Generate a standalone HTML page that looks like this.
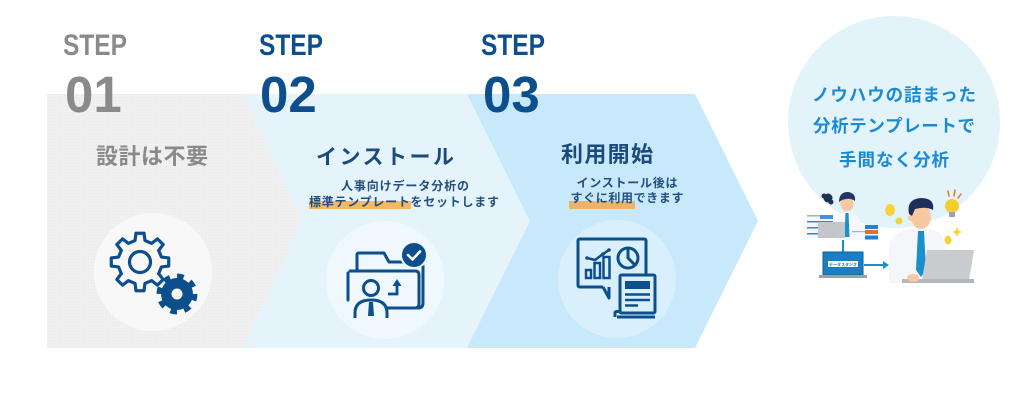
<!DOCTYPE html>
<html><head><meta charset="utf-8"><style>
html,body{margin:0;padding:0;background:#fff;width:1024px;height:405px;overflow:hidden}
svg{display:block}
text{font-family:"Liberation Sans","Noto Sans CJK JP",sans-serif;font-weight:700}
</style></head><body>
<svg width="1024" height="405" viewBox="0 0 1024 405" xmlns="http://www.w3.org/2000/svg">
<defs>
<pattern id="dots" width="3" height="3" patternUnits="userSpaceOnUse">
<rect width="3" height="3" fill="#f0f0f0"/><rect x="1" y="1" width="1" height="1" fill="#e9e9e9"/>
</pattern>
</defs>
<!-- panels -->
<polygon points="47,94 695,94 758,221 695,348 47,348" fill="#c7e9fb"/>
<polygon points="47,94 467,94 530,221 467,348 47,348" fill="#e5f4fb"/>
<polygon points="47,94 243,94 302,221 243,348 47,348" fill="url(#dots)"/>

<!-- circles -->
<circle cx="153" cy="272" r="59" fill="#f8f8f8"/>
<circle cx="385" cy="280" r="59" fill="#eef8fd"/>
<circle cx="617" cy="279" r="59" fill="#d9f0fc"/>

<!-- STEP labels -->
<text x="63" y="55" font-size="30" fill="#8a8a8a" textLength="64" lengthAdjust="spacingAndGlyphs">STEP</text>
<text x="65" y="112" font-size="51" fill="#8a8a8a">01</text>
<text x="259" y="55" font-size="30" fill="#0d4e8c" textLength="64" lengthAdjust="spacingAndGlyphs">STEP</text>
<text x="260" y="112" font-size="51" fill="#0d4e8c">02</text>
<text x="481" y="55" font-size="30" fill="#0d4e8c" textLength="64" lengthAdjust="spacingAndGlyphs">STEP</text>
<text x="483" y="112" font-size="51" fill="#0d4e8c">03</text>

<!-- titles -->
<text x="152" y="164" font-size="22" fill="#8a8a8a" text-anchor="middle" textLength="112" lengthAdjust="spacing">設計は不要</text>
<text x="385" y="164" font-size="21" fill="#1b4b7c" text-anchor="middle" textLength="138" lengthAdjust="spacing">インストール</text>
<text x="607" y="162" font-size="22" fill="#1b4b7c" text-anchor="middle" textLength="92" lengthAdjust="spacing">利用開始</text>

<!-- highlights -->
<rect x="309" y="201" width="102" height="8" fill="#f5b866"/>
<rect x="569" y="201" width="66" height="8" fill="#eab46a"/>

<!-- sub text -->
<text x="405" y="190" font-size="12" fill="#234f7e" text-anchor="middle" textLength="128" lengthAdjust="spacing">人事向けデータ分析の</text>
<text x="404" y="206" font-size="12" fill="#234f7e" text-anchor="middle" textLength="190" lengthAdjust="spacing">標準テンプレートをセットします</text>
<text x="627" y="187" font-size="12" fill="#234f7e" text-anchor="middle" textLength="101" lengthAdjust="spacing">インストール後は</text>
<text x="627" y="202" font-size="12" fill="#234f7e" text-anchor="middle" textLength="113" lengthAdjust="spacing">すぐに利用できます</text>

<!-- gear icon -->
<g fill="none" stroke="#0d4e8c" stroke-width="3.2" stroke-linejoin="round">
<polygon points="161.44,266.95 168.72,266.04 168.72,257.96 161.44,257.05 158.66,250.34 163.16,244.55 157.45,238.84 151.66,243.34 144.95,240.56 144.04,233.28 135.96,233.28 135.05,240.56 128.34,243.34 122.55,238.84 116.84,244.55 121.34,250.34 118.56,257.05 111.28,257.96 111.28,266.04 118.56,266.95 121.34,273.66 116.84,279.45 122.55,285.16 128.34,280.66 135.05,283.44 135.96,290.72 144.04,290.72 144.95,283.44 151.66,280.66 157.45,285.16 163.16,279.45 158.66,273.66"/>
<circle cx="140" cy="262" r="10.5"/>
</g>
<circle cx="177" cy="294" r="16" fill="#0d4e8c"/>
<circle cx="177" cy="294" r="17.5" fill="none" stroke="#0d4e8c" stroke-width="6" stroke-dasharray="6.5 7.24"/>
<circle cx="177" cy="294" r="5.5" fill="#f8f8f8"/>

<!-- folder icon -->
<g fill="none" stroke="#0d4e8c" stroke-width="3" stroke-linejoin="round" stroke-linecap="round">
<path d="M357,271 V255 Q357,253 359,253 H384 L389,262 H404"/>
<path d="M423,266 V303 Q423,308 418,308"/>
<path d="M350,271 H415 Q419,271 419,275 V304 Q419,308 415,308 H388"/>
<path d="M348,273 V300"/>
</g>
<path d="M355,318 V313 Q355,300 371,300 Q387,300 387,313 V318" fill="#eef8fd" stroke="#0d4e8c" stroke-width="3"/>
<circle cx="371" cy="288" r="7.5" fill="#eef8fd" stroke="#0d4e8c" stroke-width="3"/>
<polygon points="369,302 373,302 374,316 368,316" fill="#0d4e8c"/>
<path d="M388,294 H397 V284" fill="none" stroke="#0d4e8c" stroke-width="2.8"/>
<polygon points="392.5,286 397,279 401.5,286" fill="#0d4e8c"/>
<circle cx="414" cy="255" r="13" fill="#0d4e8c" stroke="#eef8fd" stroke-width="2"/>
<path d="M408,255 L412.5,259.5 L420,251.5" fill="none" stroke="#fff" stroke-width="2.6" stroke-linecap="round" stroke-linejoin="round"/>

<!-- report icon -->
<g fill="none" stroke="#0d4e8c" stroke-width="3" stroke-linejoin="round">
<path d="M603,287 H580 Q578,287 578,285 V241 Q578,239 580,239 H644 Q646,239 646,241 V276"/>
<path d="M603,287 L609,298 V287"/>
<circle cx="628" cy="258" r="10"/>
<path d="M628,248 V258 L635,265"/>
</g>
<g fill="none" stroke="#0d4e8c" stroke-width="2.5">
<rect x="586" y="270" width="5" height="8"/>
<rect x="594.5" y="263" width="5.5" height="15"/>
<rect x="603.5" y="257" width="6" height="21"/>
<polyline points="587,258 595,260 603,254 609,250"/>
</g>
<circle cx="587" cy="258" r="1.8" fill="#0d4e8c"/>
<circle cx="603" cy="254" r="1.8" fill="#0d4e8c"/>
<circle cx="609" cy="250" r="1.8" fill="#0d4e8c"/>
<rect x="620" y="275" width="35" height="38" rx="1.5" fill="#d9f0fc" stroke="#0d4e8c" stroke-width="3"/>
<rect x="625" y="281" width="25" height="8" fill="#0d4e8c"/>
<g stroke="#0d4e8c" stroke-width="2.5">
<line x1="625" y1="294.5" x2="650" y2="294.5"/>
<line x1="625" y1="300" x2="650" y2="300"/>
<line x1="625" y1="305.5" x2="638" y2="305.5"/>
</g>
<path d="M615,317 V313 Q615,311.5 617,311.5 H621 M617,317 H655" fill="none" stroke="#0d4e8c" stroke-width="3"/>

<!-- right circle -->
<circle cx="894" cy="122" r="106" fill="#e2f3fa"/>
<text x="894" y="101" font-size="17.5" fill="#1a8ad6" text-anchor="middle" textLength="164" lengthAdjust="spacing">ノウハウの詰まった</text>
<text x="894" y="132" font-size="17.5" fill="#1a8ad6" text-anchor="middle" textLength="162" lengthAdjust="spacing">分析テンプレートで</text>
<text x="894" y="166" font-size="17.5" fill="#1a8ad6" text-anchor="middle" textLength="110" lengthAdjust="spacing">手間なく分析</text>

<!-- illustration: small person -->
<circle cx="828" cy="198" r="4.5" fill="#1d3153"/>
<circle cx="824" cy="196" r="2.5" fill="#1d3153"/>
<circle cx="831" cy="202" r="2.5" fill="#1d3153"/>
<path d="M836,240 V223 Q836,213 847,212 Q859,213 860,223 V240 Z" fill="#f5f7fa"/>
<polygon points="845.5,213 848.5,213 849.5,237 844.5,237" fill="#1a8fc9"/>
<ellipse cx="847" cy="204" rx="6.5" ry="7.5" fill="#f6c9a3"/>
<path d="M839,202 Q839,192 848,192 Q856,193 855,201 Q850,197 842,200 Z" fill="#1f3563"/>
<rect x="807" y="215" width="26" height="23" fill="#f4f7fb"/>
<rect x="820" y="215" width="13" height="4" fill="#4a90d9"/>
<rect x="807" y="215" width="13" height="1.5" fill="#9ab4d2"/>
<rect x="807" y="221" width="26" height="1.5" fill="#4a7fc0"/>
<rect x="807" y="227" width="26" height="1.5" fill="#4a7fc0"/>
<rect x="807" y="233" width="26" height="1.5" fill="#4a7fc0"/>
<rect x="818" y="222" width="27" height="16" fill="#c3c6ca"/>
<rect x="852" y="225" width="26" height="15" fill="#f4f7fb"/>
<rect x="865" y="225" width="13" height="4" fill="#2b7fc4"/>
<rect x="865" y="230" width="13" height="4" fill="#df6f33"/>
<rect x="865" y="235.5" width="13" height="4" fill="#2b7fc4"/>
<rect x="852" y="231" width="13" height="1.2" fill="#9ab4d2"/>
<line x1="843" y1="240" x2="843" y2="252" stroke="#1a8fc9" stroke-width="2"/>
<rect x="823" y="252" width="40" height="23" fill="#1a7fc0" stroke="#0f5f9a" stroke-width="1"/>
<rect x="828" y="261" width="30" height="6" fill="#fff"/>
<text x="843" y="265.8" font-size="4" fill="#1a7fc0" text-anchor="middle">データスタジオ</text>
<rect x="819" y="275" width="48" height="3" fill="#9aa0a6"/>
<line x1="864" y1="265" x2="884" y2="265" stroke="#1a8fc9" stroke-width="2"/>
<polygon points="883,261 889,265 883,269" fill="#1a8fc9"/>

<!-- illustration: big person -->
<ellipse cx="890" cy="210" rx="5" ry="6" fill="#f7d23a"/>
<circle cx="899" cy="221" r="3.5" fill="#f7d23a"/>
<ellipse cx="948" cy="240" rx="3.5" ry="4.5" fill="#f7d23a"/>
<circle cx="952" cy="206" r="7" fill="#f5cd2d"/>
<rect x="949" y="212" width="6" height="5" fill="#9aa3ad"/>
<g stroke="#e77a32" stroke-width="1.6" stroke-linecap="round">
<line x1="948" y1="191" x2="949" y2="196"/>
<line x1="955" y1="190" x2="954" y2="196"/>
<line x1="961" y1="194" x2="958" y2="198"/>
</g>
<path d="M957,227 L958.5,230.5 L962,232 L958.5,233.5 L957,237 L955.5,233.5 L952,232 L955.5,230.5 Z" fill="#f7d23a"/>
<path d="M889,283 V250 Q889,232 911,229 H931 Q945,232 945,250 V283 Z" fill="#f4f6f9"/>
<polygon points="918,231 924,231 926,270 921,277 916,270" fill="#1a8fc9"/>
<ellipse cx="921" cy="217" rx="10" ry="12" fill="#f6c9a3"/>
<circle cx="911" cy="218" r="3" fill="#f6c9a3"/>
<path d="M909,214 Q906,199 921,198 Q935,198 933,210 Q926,206 915,209 L912,216 Z" fill="#1c2f5a"/>
<polygon points="927,250 974,250 969,280 922,280" fill="#c9cbce"/>
<rect x="902" y="279" width="72" height="4" fill="#b5b8bb"/>
<ellipse cx="913" cy="278" rx="6" ry="4" fill="#f6c9a3"/>
</svg>
</body></html>
